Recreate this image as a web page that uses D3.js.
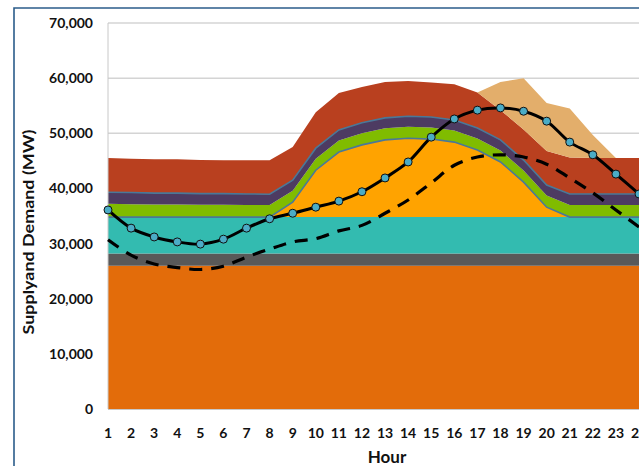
<!DOCTYPE html>
<html>
<head>
<meta charset="utf-8">
<script src="https://cdn.jsdelivr.net/npm/d3@7"></script>
<style>
  html, body { margin: 0; padding: 0; background: #fff; }
  svg { display: block; }
  text { font-family: Lato, "Open Sans", sans-serif; font-weight: 700; fill: #111; }
</style>
</head>
<body>
<svg id="chart" width="639" height="466"></svg>
<script>
// Hourly supply stack and demand (MW)
const hours = d3.range(1, 25);

const baseload = [26000,26000,26000,26000,26000,26000,26000,26000,26000,26000,26000,26000,
                  26000,26000,26000,26000,26000,26000,26000,26000,26000,26000,26000,26000];
const greyGen  = [2200,2200,2200,2200,2200,2200,2200,2200,2200,2200,2200,2200,
                  2200,2200,2200,2200,2200,2200,2200,2200,2200,2200,2200,2200];
const tealGen  = [6600,6600,6600,6600,6600,6600,6600,6600,6600,6600,6600,6600,
                  6600,6600,6600,6600,6600,6600,6600,6600,6600,6600,6600,6600];
const solar    = [0,0,0,0,0,0,0,0,2700,8500,11800,13100,
                  14000,14300,14150,13600,12150,10000,6350,1800,0,0,0,0];
const greenGen = [2400,2350,2300,2300,2250,2250,2200,2200,2100,2100,2100,2100,
                  2100,2100,2100,2100,2100,2100,2100,2100,2200,2200,2200,2200];
const purpleGen= [2100,2100,2050,2050,2000,2000,2000,1950,1900,1900,1900,1900,
                  1900,1900,1900,1900,1900,1900,1900,1900,2000,2000,2000,2000];
const redGen   = [6200,6150,6150,6150,6100,6050,6100,6150,6000,6500,6700,6500,
                  6500,6400,6250,6500,6450,5400,5550,6200,6600,6500,6500,6500];
const tanGen   = [0,0,0,0,0,0,0,0,0,0,0,0,
                  0,0,0,0,0,5100,9300,8700,8900,4200,0,0];

const demand    = [36100,32800,31200,30300,29900,30800,32800,34500,35500,36600,37700,39400,
                   41900,44800,49300,52600,54200,54600,54000,52200,48400,46100,42600,39000];
const netDemand = [30700,27900,26300,25650,25300,25900,27550,29000,30300,30900,32300,33300,
                   35500,37900,41000,44200,45700,46100,45700,44400,41900,39200,36100,33000];

const yTicks = [0,10000,20000,30000,40000,50000,60000,70000];

const layers = [
  { key: "baseload", values: baseload,  color: "#E36C0A" },
  { key: "grey",     values: greyGen,   color: "#595959" },
  { key: "teal",     values: tealGen,   color: "#33BBB0" },
  { key: "solar",    values: solar,     color: "#FFA300", edge: "#4A7898" },
  { key: "green",    values: greenGen,  color: "#80BC00" },
  { key: "purple",   values: purpleGen, color: "#4D3B62", edge: "#4A7898" },
  { key: "red",      values: redGen,    color: "#B9401F" },
  { key: "tan",      values: tanGen,    color: "#E3AE6B" }
];

const table = hours.map((h, i) => {
  const row = { hour: h };
  layers.forEach(l => { row[l.key] = l.values[i]; });
  return row;
});

const svg = d3.select("#chart");
const W = 639, H = 466;

const x = d3.scaleLinear().domain([1, 24]).range([108, 639]);
const y = d3.scaleLinear().domain([0, 70000]).range([409, 23]);

// outer frame
svg.append("path")
  .attr("d", `M14,${H + 2} L14,8 L${W + 2},8`)
  .attr("fill", "none").attr("stroke", "#2B5C8A").attr("stroke-width", 1.6);

// gridlines
svg.append("g").selectAll("line").data(yTicks.filter(d => d > 0)).join("line")
  .attr("x1", 108).attr("x2", W + 2)
  .attr("y1", d => y(d)).attr("y2", d => y(d))
  .attr("stroke", "#D4D4D4").attr("stroke-width", 1.5);

// stacked supply areas
const stack = d3.stack().keys(layers.map(l => l.key));
const series = stack(table);

const area = d3.area()
  .x(d => x(d.data.hour))
  .y0(d => y(d[0]))
  .y1(d => y(d[1]));

svg.append("g").selectAll("path").data(series).join("path")
  .attr("d", area)
  .attr("fill", (d, i) => layers[i].color);

const topLine = d3.line().x(d => x(d.data.hour)).y(d => y(d[1]));
svg.append("g").selectAll("path")
  .data(series.filter((d, i) => layers[i].edge))
  .join("path")
  .attr("d", topLine)
  .attr("fill", "none")
  .attr("stroke", d => layers[layers.findIndex(l => l.key === d.key)].edge)
  .attr("stroke-width", 1.6);

// axis lines
svg.append("line").attr("x1", 108).attr("x2", 108).attr("y1", y(70000)).attr("y2", y(0))
  .attr("stroke", "#C8C8C8").attr("stroke-width", 1);
svg.append("line").attr("x1", 108).attr("x2", W + 2).attr("y1", y(0) + 0.5).attr("y2", y(0) + 0.5)
  .attr("stroke", "#C8C8C8").attr("stroke-width", 1.2);

// demand lines
const smooth = d3.line()
  .x((d, i) => x(hours[i]))
  .y(d => y(d))
  .curve(d3.curveCatmullRom.alpha(0.5));

svg.append("path").datum(netDemand)
  .attr("d", smooth)
  .attr("fill", "none").attr("stroke", "#000")
  .attr("stroke-width", 3.2).attr("stroke-dasharray", "13,9");

svg.append("path").datum(demand)
  .attr("d", smooth)
  .attr("fill", "none").attr("stroke", "#000")
  .attr("stroke-width", 3);

svg.append("g").selectAll("circle").data(demand).join("circle")
  .attr("cx", (d, i) => x(hours[i]))
  .attr("cy", d => y(d))
  .attr("r", 4)
  .attr("fill", "#4BACC6")
  .attr("stroke", "#111").attr("stroke-width", 1);

// y tick labels
svg.append("g").selectAll("text").data(yTicks).join("text")
  .attr("x", 93).attr("y", d => y(d))
  .attr("dy", "0.36em")
  .attr("text-anchor", "end")
  .style("font-size", "14px")
  .text(d => d3.format(",")(d));

// x tick labels
svg.append("g").selectAll("text").data(hours).join("text")
  .attr("x", d => x(d)).attr("y", 438)
  .attr("text-anchor", "middle")
  .style("font-size", "14px")
  .text(d => d);

// axis titles
svg.append("text")
  .attr("x", 387).attr("y", 463)
  .attr("text-anchor", "middle")
  .style("font-size", "17px")
  .text("Hour");

svg.append("text")
  .attr("transform", "translate(34,232) rotate(-90)")
  .attr("text-anchor", "middle")
  .style("font-size", "16px")
  .attr("textLength", 205)
  .attr("lengthAdjust", "spacingAndGlyphs")
  .text("Supplyand Demand (MW)");
</script>
</body>
</html>
